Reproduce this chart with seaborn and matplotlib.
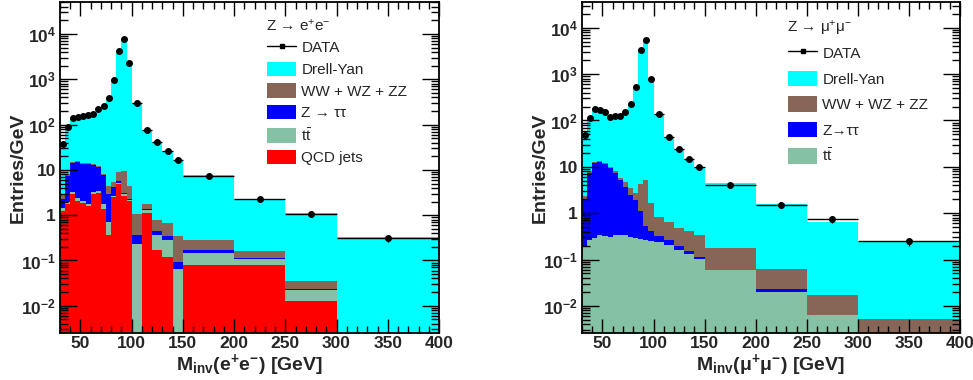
import numpy as np
import pandas as pd
import matplotlib
matplotlib.use("Agg")
import matplotlib.pyplot as plt
from matplotlib.lines import Line2D
from matplotlib.patches import Patch
from matplotlib.ticker import FixedLocator, LogLocator, NullFormatter, MultipleLocator
import seaborn as sns

sns.set_style("ticks")
plt.rcParams['font.family'] = ['Liberation Sans', 'DejaVu Sans']
plt.rcParams['mathtext.fontset'] = 'custom'
plt.rcParams['mathtext.rm'] = 'Liberation Sans'
plt.rcParams['mathtext.it'] = 'Liberation Sans:italic'
plt.rcParams['mathtext.bf'] = 'Liberation Sans:bold'

# bin edges (GeV), shared by both channels
edges = [30, 35, 40, 45, 50, 55, 60, 65, 70, 75, 80, 85, 90, 95, 100,
         110, 120, 130, 140, 150, 200, 250, 300, 400]

# ---- Z -> ee channel (entries / GeV, per process, not stacked) ----
ee_dy = [34, 82, 123, 134.5, 144, 150, 162, 207, 252, 391.5, 936.6, 4261, 7740, 2275.5,
         306, 75, 41.2, 25, 16.2, 7.5, 2.14, 1.06, 0.33]
ee_vv = [0.7, 0.5, 0.8, 0.6, 0.5, 0.5, 0.5, 0.9, 0.4, 1.5, 1.2, 3.5, 6.5, 2.2,
         0.69, 0.4, 0.33, 0.34, 0.247, 0.116, 0.045, 0.012, 0]
ee_ztt = [0.85, 5.5, 10.7, 12.5, 11.4, 11.7, 9.5, 8.0, 5.95, 2.29, 1.6, 0.4, 0.1, 0.1,
          0.13, 0.1, 0.09, 0.06, 0.029, 0.025, 0.009, 0.002, 0]
ee_tt = [0.2, 0.2, 0.2, 0.3, 0.2, 0.2, 0.3, 0.3, 0.35, 0.35, 0.1, 0.3, 0.4, 0.1,
         0.23, 0.21, 0.19, 0.16, 0.064, 0.071, 0.028, 0.0095, 0]
ee_qcd = [1.25, 1.8, 3.0, 2.1, 1.9, 1.6, 3.0, 3.1, 1.4, 0.36, 2.5, 4.9, 2.6, 2.1,
          0, 1.09, 0.17, 0.12, 0, 0.078, 0.078, 0.0125, 0]
ee_data = [37, 90, 138, 150, 158, 164, 175, 219, 260, 396, 942, 4270, 7750, 2280,
           307, 77, 42, 25.7, 16.5, 7.4, 2.26, 1.07, 0.315]
ee_err = [2.7, 4.2, 5.3, 5.5, 5.6, 5.7, 5.9, 6.6, 7.2, 8.9, 13.7, 29, 39, 21,
          5.5, 2.8, 2.0, 1.6, 1.3, 0.38, 0.21, 0.15, 0.056]

# ---- Z -> mumu channel ----
mm_dy = [45.7, 104, 162, 153, 138, 111, 119, 121, 150, 228, 538, 3266, 5565, 793,
         137, 44.4, 23.9, 14.7, 9.6, 4.33, 1.49, 0.62, 0.23]
mm_vv = [0.4, 0.5, 0.6, 0.5, 0.6, 0.7, 0.5, 0.65, 0.9, 1.0, 0.8, 3.1, 4.56, 1.27,
         0.49, 0.38, 0.28, 0.27, 0.234, 0.114, 0.038, 0.0108, 0.0053]
mm_ztt = [1.7, 7.24, 11.9, 12.2, 11.1, 8.9, 7.1, 4.76, 3.37, 2.2, 1.61, 0.82, 0.27, 0.163,
          0.095, 0.05, 0.04, 0.02, 0.009, 0.001, 0.0026, 0, 0]
mm_tt = [0.2, 0.26, 0.29, 0.34, 0.33, 0.31, 0.335, 0.34, 0.335, 0.30, 0.29, 0.28, 0.27, 0.247,
         0.235, 0.21, 0.16, 0.13, 0.102, 0.059, 0.0204, 0.00635, 0]
mm_data = [48, 112, 175, 166, 150, 121, 127, 127, 155, 232, 541, 3270, 5570, 795,
           138, 45, 24.4, 15.1, 9.95, 4.05, 1.49, 0.74, 0.247]
mm_err = [3.1, 4.7, 5.9, 5.8, 5.5, 4.9, 5.0, 5.0, 5.6, 6.8, 10.4, 25.6, 33, 12.6,
          3.7, 2.1, 1.6, 1.2, 1.0, 0.28, 0.17, 0.12, 0.05]

colors = {"dy": "#00FFFF", "vv": "#876657", "ztt": "#0000FF", "tt": "#85C2A3", "qcd": "#FF0000"}

ytick_vals = [1e-2, 1e-1, 1, 10, 1e2, 1e3, 1e4]
ytick_labels = [r"$\mathbf{10^{-2}}$", r"$\mathbf{10^{-1}}$", "1", "10",
                r"$\mathbf{10^{2}}$", r"$\mathbf{10^{3}}$", r"$\mathbf{10^{4}}$"]

fig = plt.figure(figsize=(9.73, 3.80), dpi=100)
W, H = 973.0, 380.0


def panel(rect, comps, labels, data, err, header, xlabel, ylim, leg_xy, leg_space, hh):
    ax = fig.add_axes(rect)
    e = np.array(edges, dtype=float)
    centers = 0.5 * (e[1:] + e[:-1])
    half = 0.5 * (e[1:] - e[:-1])
    rows = []
    for key, vals in comps.items():
        for c, v in zip(centers, vals):
            rows.append({"mass": c, "value": v, "proc": key})
    df = pd.DataFrame(rows)
    order = list(comps.keys())
    sns.histplot(data=df, x="mass", weights="value", hue="proc", hue_order=order,
                 multiple="stack", bins=edges, element="step", fill=True, alpha=1,
                 linewidth=0, palette=colors, legend=False, ax=ax)
    ax.errorbar(centers, data, xerr=half, yerr=err, fmt="o", color="black", ms=4,
                lw=1, capsize=0, zorder=5)
    ax.set_yscale("log")
    ax.set_xlim(30, 400)
    ax.set_ylim(*ylim)
    ax.set_axisbelow(False)  # ticks drawn over the filled stack, as in ROOT
    ax.xaxis.set_major_locator(FixedLocator([50, 100, 150, 200, 250, 300, 350, 400]))
    ax.xaxis.set_minor_locator(MultipleLocator(10))
    ax.yaxis.set_major_locator(FixedLocator(ytick_vals))
    ax.set_yticklabels(ytick_labels)
    ax.yaxis.set_minor_locator(LogLocator(base=10, subs=np.arange(2, 10)))
    ax.yaxis.set_minor_formatter(NullFormatter())
    ax.tick_params(which="both", direction="in", top=True, right=True, width=1, color="black")
    ax.tick_params(axis="x", which="major", length=10, pad=2, labelsize=12.5)
    ax.tick_params(axis="x", which="minor", length=5)
    ax.tick_params(axis="y", which="major", length=12, pad=3, labelsize=12.5)
    ax.tick_params(axis="y", which="minor", length=6)
    for lab in ax.get_xticklabels() + ax.get_yticklabels():
        lab.set_fontweight("bold")
    for s in ax.spines.values():
        s.set_linewidth(1.3)
        s.set_color("black")
        s.set_zorder(6)
    ax.set_xlabel(xlabel, fontsize=14, fontweight="bold")
    ax.set_ylabel("Entries/GeV", fontsize=14, fontweight="bold")
    ax.xaxis.set_label_coords(0.5, -0.058)
    ax.yaxis.set_label_coords(-0.088, 0.5)
    ax.grid(False)

    # legend: header line plus the entries
    hx, hy, ly = leg_xy
    fig.text(hx / W, 1 - hy / H, header, fontsize=11, ha="left", va="baseline")
    handles = [Line2D([], [], color="black", marker="s", ms=3, lw=1)]
    handles += [Patch(facecolor=colors[k], edgecolor="none") for k in order]
    names = ["DATA"] + [labels[k] for k in order]
    fig.legend(handles, names, loc="upper left",
               bbox_to_anchor=((hx + 1) / W, 1 - ly / H),
               frameon=False, fontsize=11, handlelength=1.9, handleheight=hh,
               handletextpad=0.35, labelspacing=leg_space, borderpad=0, borderaxespad=0)
    return ax


ee_labels = {"dy": "Drell-Yan", "vv": "WW + WZ + ZZ", "ztt": "Z → ττ",
             "tt": r"t$\bar{\mathrm{t}}$", "qcd": "QCD jets"}
panel([60 / W, 47 / H, 379 / W, 331 / H],
      {"dy": ee_dy, "vv": ee_vv, "ztt": ee_ztt, "tt": ee_tt, "qcd": ee_qcd},
      ee_labels, ee_data, ee_err,
      r"Z → e$^{+}$e$^{-}$", r"$\mathbf{M_{inv}(e^{+}e^{-})}$ [GeV]",
      (0.0025, 5.1e4), (266, 30.5, 40), 0.42, 1.05)

mm_labels = {"dy": "Drell-Yan", "vv": "WW + WZ + ZZ", "ztt": "Z→ττ",
             "tt": r"t$\bar{\mathrm{t}}$"}
panel([582 / W, 47 / H, 378 / W, 331 / H],
      {"dy": mm_dy, "vv": mm_vv, "ztt": mm_ztt, "tt": mm_tt},
      mm_labels, mm_data, mm_err,
      r"Z → μ$^{+}$μ$^{-}$", r"$\mathbf{M_{inv}(\mu^{+}\mu^{-})}$ [GeV]",
      (0.0026, 3.6e4), (787, 32.5, 45), 0.63, 1.2)

fig.savefig("out.png", dpi=100)
